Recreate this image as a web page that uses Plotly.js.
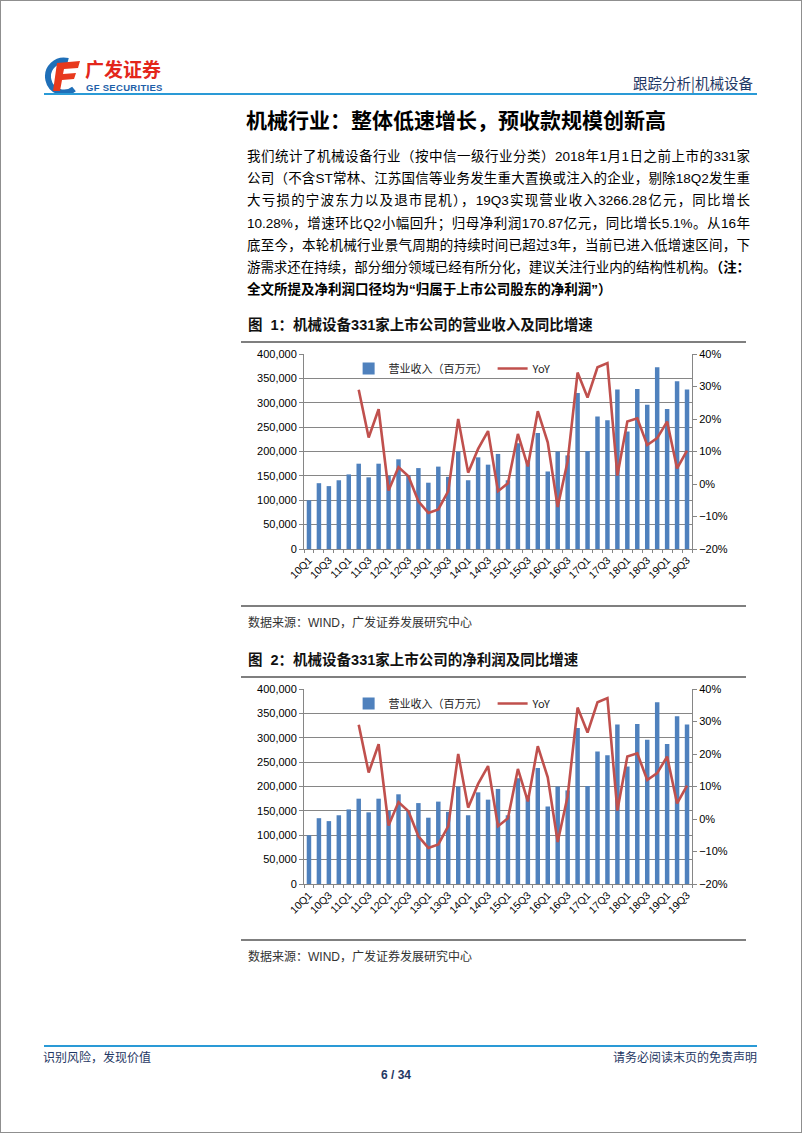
<!DOCTYPE html>
<html>
<head>
<meta charset="utf-8">
<script src="https://cdn.plot.ly/plotly-3.0.1.min.js"></script>
<style>
  html, body { margin:0; padding:0; background:#fff; }
  #page { position:relative; width:800px; height:1131px; border:1px solid #8f8f8f; background:#fff; overflow:hidden;
          font-family:"Liberation Sans","Noto Sans CJK SC",sans-serif; color:#000; }
  .abs { position:absolute; white-space:nowrap; }
  .para { position:absolute; left:246px; width:503px; font-size:13.5px; line-height:22.2px; }
  .para div { text-align:justify; text-align-last:justify; white-space:nowrap; height:22.2px; }
  .para div.last { text-align-last:left; }
  .ctitle { position:absolute; left:247px; font-size:14.5px; font-weight:bold; color:#111; line-height:18px; }
  .rule { position:absolute; left:240px; width:505px; height:2px; background:#7f7f7f; }
  .src { position:absolute; left:247px; font-size:12px; color:#333; line-height:16px; }
  .chart { position:absolute; left:230px; width:520px; height:262px; }
</style>
</head>
<body>
<div id="page">
  <!-- header logo -->
  <svg class="abs" style="left:43px;top:56px" width="40" height="38" viewBox="0 0 40 38">
    <path d="M24 4 A16 16 0 1 0 30 32" fill="none" stroke="#1f6fb8" stroke-width="6"/>
    <path d="M13 6 L36 4 L34 11 L20 12 L19 17 L32 16 L30 22 L18 23 L16 34 L9 34 Z" fill="#e8391d"/>
  </svg>
  <div class="abs" style="left:84px;top:57px;font-size:19px;font-weight:bold;color:#e3261b;line-height:22px;height:22px;font-family:'Noto Sans CJK SC';letter-spacing:0px;">广发证券</div>
  <div class="abs" style="left:85px;top:81px;font-size:9.5px;font-weight:bold;color:#1f5fa8;line-height:11px;height:11px;letter-spacing:0.3px;">GF SECURITIES</div>
  <div class="abs" style="right:48px;top:73px;font-size:14.5px;color:#1f3864;line-height:18px;font-family:'Noto Sans CJK SC';">跟踪分析|机械设备</div>
  <div class="abs" style="left:43px;top:92px;width:713px;height:2px;background:#2a9ad6;"></div>

  <div class="abs" style="left:245px;top:105px;font-size:21px;font-weight:bold;line-height:26px;font-family:'Noto Sans CJK SC';">机械行业：整体低速增长，预收款规模创新高</div>

  <div class="para" style="top:145px;">
    <div>我们统计了机械设备行业（按中信一级行业分类）2018年1月1日之前上市的331家</div>
    <div>公司（不含ST常林、江苏国信等业务发生重大置换或注入的企业，剔除18Q2发生重</div>
    <div>大亏损的宁波东力以及退市昆机），19Q3实现营业收入3266.28亿元，同比增长</div>
    <div>10.28%，增速环比Q2小幅回升；归母净利润170.87亿元，同比增长5.1%。从16年</div>
    <div>底至今，本轮机械行业景气周期的持续时间已超过3年，当前已进入低增速区间，下</div>
    <div style="letter-spacing:-0.1px;">游需求还在持续，部分细分领域已经有所分化，建议关注行业内的结构性机构。<b>（注：</b></div>
    <div class="last"><b>全文所提及净利润口径均为“归属于上市公司股东的净利润”）</b></div>
  </div>

  <div class="ctitle" style="top:315px;">图&nbsp;&nbsp;1：机械设备331家上市公司的营业收入及同比增速</div>
  <div class="rule" style="top:340px;"></div>
  <div id="chart1" class="chart" style="top:344px;"></div>
  <div class="rule" style="top:604px;"></div>
  <div class="src" style="top:614px;">数据来源：WIND，广发证券发展研究中心</div>

  <div class="ctitle" style="top:650px;">图&nbsp;&nbsp;2：机械设备331家上市公司的净利润及同比增速</div>
  <div class="rule" style="top:675px;"></div>
  <div id="chart2" class="chart" style="top:679px;"></div>
  <div class="rule" style="top:938px;"></div>
  <div class="src" style="top:948px;">数据来源：WIND，广发证券发展研究中心</div>

  <div class="abs" style="left:43px;top:1044px;width:713px;height:2px;background:#2a9ad6;"></div>
  <div class="abs" style="left:42px;top:1048px;font-size:12px;color:#1f3864;line-height:16px;font-family:'Noto Sans CJK SC';">识别风险，发现价值</div>
  <div class="abs" style="right:44px;top:1048px;font-size:12px;color:#1f3864;line-height:16px;font-family:'Noto Sans CJK SC';">请务必阅读末页的免责声明</div>
  <div class="abs" style="left:0;width:790px;text-align:center;top:1066px;font-size:12px;font-weight:bold;color:#1f3864;line-height:16px;">6 / 34</div>
</div>

<script>
// ---- data ----
const quarters = ['10Q1','10Q2','10Q3','10Q4','11Q1','11Q2','11Q3','11Q4','12Q1','12Q2','12Q3','12Q4',
  '13Q1','13Q2','13Q3','13Q4','14Q1','14Q2','14Q3','14Q4','15Q1','15Q2','15Q3','15Q4',
  '16Q1','16Q2','16Q3','16Q4','17Q1','17Q2','17Q3','17Q4','18Q1','18Q2','18Q3','18Q4',
  '19Q1','19Q2','19Q3'];
// 营业收入（百万元）
const revenue = [100000,135000,129000,141000,153000,175000,147000,175000,150000,184000,151000,166000,
  136000,169000,148000,200000,141000,188000,173000,195000,141000,217000,182000,238000,
  159000,200000,192000,320000,201000,272000,264000,327000,241000,328000,296000,373000,
  287000,344000,327000];
// YoY (%)
const yoy = [null,null,null,null,null,29.0,14.3,23.0,-2.0,5.2,2.4,-5.3,
  -8.9,-7.8,-2.2,20.0,3.5,10.8,16.3,-2.2,0.2,15.4,5.4,22.4,
  12.8,-7.1,7.0,34.3,26.6,35.9,37.2,2.6,19.2,20.2,12.0,14.1,
  19.2,4.8,10.3];
const xTickLabels = ['10Q1','10Q3','11Q1','11Q3','12Q1','12Q3','13Q1','13Q3','14Q1','14Q3',
  '15Q1','15Q3','16Q1','16Q3','17Q1','17Q3','18Q1','18Q3','19Q1','19Q3'];
const barName = '营业收入（百万元）';
const lineName = 'YoY';

const tickFont = {family:'Liberation Sans, Arial, sans-serif', size:11, color:'#000'};
const axisGray = '#868686';

function draw(id){
  const traces = [
    {type:'bar', x:quarters, y:revenue, name:barName, marker:{color:'#4f81bd'}, yaxis:'y'},
    {type:'scatter', mode:'lines', x:quarters, y:yoy, name:lineName, yaxis:'y2',
     line:{color:'#c0504d', width:2.6}, connectgaps:false}
  ];
  const layout = {
    width:520, height:262,
    margin:{l:73, r:59, t:9, b:58, pad:0},
    paper_bgcolor:'rgba(0,0,0,0)', plot_bgcolor:'rgba(0,0,0,0)',
    bargap:0.55,
    showlegend:true,
    legend:{orientation:'h', x:0.115, y:1.0, xanchor:'left', yanchor:'top',
      bgcolor:'rgba(0,0,0,0)', font:{family:'Noto Sans CJK SC, sans-serif', size:11, color:'#222'},
      itemwidth:30, traceorder:'normal'},
    xaxis:{type:'category', categoryorder:'array', categoryarray:quarters,
      tickmode:'array', tickvals:quarters,
      ticktext:quarters.map(q => xTickLabels.includes(q) ? q : ''),
      tickson:'boundaries', ticks:'outside', ticklen:3, tickcolor:axisGray,
      tickangle:-45, tickfont:{family:'Liberation Sans, Arial, sans-serif', size:10.5, color:'#000'},
      showline:true, linecolor:axisGray, linewidth:1, showgrid:false, zeroline:false,
      automargin:false, fixedrange:true},
    yaxis:{range:[0,400000], tickmode:'linear', tick0:0, dtick:50000, tickformat:',',
      showgrid:true, gridcolor:axisGray, gridwidth:1, showline:true, linecolor:axisGray,
      ticks:'outside', ticklen:4, tickcolor:axisGray, tickfont:tickFont, zeroline:false,
      automargin:false, fixedrange:true},
    yaxis2:{overlaying:'y', side:'right', range:[-20,40], tickmode:'linear', tick0:-20, dtick:10,
      ticksuffix:'%', showgrid:false, showline:true, linecolor:axisGray,
      ticks:'outside', ticklen:4, tickcolor:axisGray, tickfont:tickFont, zeroline:false,
      automargin:false, fixedrange:true}
  };
  Plotly.newPlot(id, traces, layout, {staticPlot:true, displayModeBar:false});
}
draw('chart1');
draw('chart2');
</script>
</body>
</html>
